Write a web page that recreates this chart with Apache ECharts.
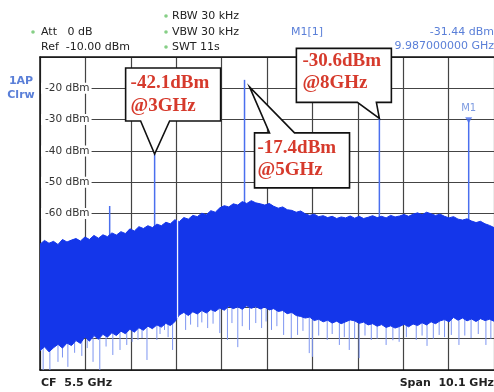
<!DOCTYPE html>
<html>
<head>
<meta charset="utf-8" />
<title>Spectrum 0.45 - 10.55 GHz</title>
<script src="https://cdn.jsdelivr.net/npm/echarts@6/dist/echarts.min.js"></script>
<style>
    html, body { margin: 0; padding: 0; background: #fff; }
    #chart { width: 494px; height: 392px; }
</style>
</head>
<body>
<div id="chart"></div>
<script type="text/javascript">
    // sweep: CF 5.5 GHz, span 10.1 GHz, trace read every 0.1 GHz
    var startGHz = 0.45;
    var spanGHz = 10.1;
    var stepGHz = 0.1;
    var divGHz = 1.01;

    // top edge of the noise floor (dBm)
    var noiseTop = [
        -69.8,-68.6,-69.5,-68.9,-69.9,-68.3,-69.1,-68.5,-68.0,-68.8,
        -67.5,-68.3,-67.0,-67.9,-66.8,-67.4,-66.2,-66.9,-65.8,-66.4,
        -64.9,-65.6,-64.2,-64.8,-63.9,-64.5,-63.4,-63.9,-62.8,-63.3,
        -62.0,-62.6,-61.3,-61.8,-60.6,-61.0,-59.9,-60.4,-59.1,-59.6,
        -58.2,-57.5,-57.9,-56.9,-57.3,-56.2,-56.8,-55.9,-56.6,-56.9,
        -57.3,-56.8,-57.7,-58.3,-57.9,-58.8,-59.0,-59.6,-59.2,-60.1,
        -60.6,-60.2,-61.0,-60.7,-61.3,-60.9,-61.6,-61.1,-61.4,-60.8,
        -61.5,-60.9,-61.6,-61.2,-60.7,-61.3,-60.9,-61.4,-60.6,-61.1,
        -60.8,-60.3,-60.9,-60.2,-59.8,-60.4,-59.6,-60.1,-60.6,-60.2,
        -60.9,-61.4,-61.0,-61.8,-62.1,-61.7,-62.4,-62.9,-62.5,-63.3,
        -63.8,-64.5
    ];
    // lower edge of the dense part of the noise (dBm)
    var noiseBottom = [
        -103.8,-102.6,-104.2,-102.9,-101.8,-103.0,-101.4,-102.2,-100.6,-101.5,
        -99.4,-100.8,-99.0,-100.2,-98.6,-99.5,-98.1,-99.0,-97.6,-98.4,
        -97.0,-97.9,-96.5,-97.3,-96.0,-96.8,-95.6,-96.3,-95.1,-95.8,
        -94.6,-92.4,-91.6,-92.6,-91.4,-92.1,-91.0,-91.8,-90.7,-91.3,
        -90.2,-90.9,-89.6,-90.4,-89.8,-90.6,-89.5,-90.3,-89.7,-90.5,
        -89.9,-90.8,-90.4,-91.3,-91.0,-92.0,-91.6,-92.6,-92.9,-93.4,
        -93.1,-94.2,-93.8,-94.6,-94.1,-95.0,-94.4,-95.2,-94.6,-94.0,
        -94.3,-95.1,-94.7,-95.6,-95.2,-96.0,-95.5,-96.4,-95.9,-96.6,
        -96.1,-95.4,-96.2,-95.3,-95.8,-94.9,-95.6,-94.6,-95.2,-94.3,
        -93.9,-94.6,-93.2,-94.1,-93.4,-94.3,-93.7,-94.5,-93.6,-94.2,
        -93.8,-94.4
    ];
    // sparse downward spikes under the noise
    var spikeFreqs = [
        0.52,0.67,0.85,0.95,1.07,1.22,1.38,1.50,1.63,1.78,1.92,2.07,2.23,2.38,2.50,
        2.63,2.72,2.83,3.05,3.12,3.22,3.30,3.40,3.69,3.80,3.96,4.05,4.18,4.30,4.45,
        4.62,4.72,4.85,4.95,5.11,5.25,5.38,5.48,5.60,5.72,5.87,6.04,6.18,6.30,6.44,
        6.51,6.65,6.84,6.95,7.11,7.22,7.33,7.45,7.55,7.68,7.82,7.95,8.15,8.30,8.44,
        8.60,8.82,8.95,9.06,9.20,9.33,9.45,9.60,9.77,9.90,10.04,10.20,10.37,10.48
    ];
    var spikeLows = [
        -110,-110,-107.4,-106,-109,-104.5,-105.5,-103,-107.4,-110,-102.5,-105.2,-103.6,-102,-101,
        -100.4,-99.8,-106.8,-100.4,-98.5,-97.2,-99.5,-103.6,-97.2,-95.5,-96.3,-94.8,-96.6,-95.2,-98.2,
        -100.4,-95,-102.7,-96,-97.2,-95,-96.6,-94.5,-97.2,-96,-98.8,-99.8,-98.8,-97.5,-104.6,
        -105.8,-99,-100.4,-98.5,-102,-99.5,-103.6,-100,-106.2,-99,-100.4,-100,-102,-100.5,-101,
        -99.5,-100.4,-99,-102.3,-100,-98.8,-99.5,-98.8,-102,-99,-99.8,-98.5,-102,-100
    ];
    // discrete tones
    var peakFreqs = [2.0, 3.0, 5.0, 8.0, 9.987];
    var peakLevels = [-57.6, -41.0, -17.3, -29.6, -30.2];
    var markerFreq = 9.987;
    var markerLevel = -30.2;
    // short break in the trace (white gap)
    var gapFreqs = [3.51];
    var gapTops = [-62.0];
    var gapBottoms = [-93.6];
    var labelTicks = [-20, -30, -40, -50, -60];

    var blue = '#1436ea';
    var lineBlue = '#4a6fee';
    var infoBlue = '#5a7fd8';
    var red = '#d63a2c';

    // x axis is measured from the start of the sweep
    function off(f) { return f - startGHz; }

    var spikeData = spikeFreqs.map(function (f, i) { return [off(f), spikeLows[i], -85]; });
    var peakData = peakFreqs.map(function (f, i) { return [off(f), peakLevels[i], -75]; });
    var gapData = gapFreqs.map(function (f, i) { return [off(f), gapTops[i], gapBottoms[i]]; });

    function vline(color, width) {
        return function (params, api) {
            var p1 = api.coord([api.value(0), api.value(1)]);
            var p2 = api.coord([api.value(0), api.value(2)]);
            return {
                type: 'line',
                shape: { x1: p1[0], y1: p1[1], x2: p2[0], y2: p2[1] },
                style: { stroke: color, lineWidth: width }
            };
        };
    }

    // the noise floor as one filled band between the two edges
    function renderBand(params, api) {
        var pts = [];
        for (var i = 0; i < noiseTop.length; i++) {
            pts.push(api.coord([i * stepGHz, noiseTop[i]]));
        }
        for (var j = noiseBottom.length - 1; j >= 0; j--) {
            pts.push(api.coord([j * stepGHz, noiseBottom[j]]));
        }
        return {
            type: 'polygon',
            shape: { points: pts },
            style: { fill: blue, stroke: blue, lineWidth: 1 }
        };
    }

    function headText(txt, x, y, color, align, extra) {
        return {
            type: 'text', z: 5, x: x, y: y,
            style: {
                text: txt, fill: color || '#222', textAlign: align || 'left', textVerticalAlign: 'middle',
                font: (extra || '') + '11px "DejaVu Sans"'
            }
        };
    }
    function dot(x, y) {
        return { type: 'circle', z: 5, shape: { cx: x, cy: y, r: 1.8 }, style: { fill: '#86cf86' } };
    }

    var chart = echarts.init(document.getElementById('chart'), null, { renderer: 'canvas' });
    var option = {
        animation: false,
        backgroundColor: '#fff',
        grid: { left: 40, right: 0, top: 57, bottom: 22 },
        xAxis: [{
            type: 'value', min: 0, max: spanGHz, interval: divGHz,
            axisLabel: { show: false }, axisTick: { show: false },
            axisLine: { show: true, lineStyle: { color: '#111', width: 1.5 } },
            splitLine: { show: true, lineStyle: { color: '#444', width: 1.2 } }
        }, {
            type: 'value', position: 'top', min: 0, max: spanGHz,
            axisLabel: { show: false }, axisTick: { show: false },
            axisLine: { show: true, lineStyle: { color: '#111', width: 1.5 } },
            splitLine: { show: false }
        }],
        yAxis: {
            type: 'value', min: -110, max: -10, interval: 10,
            axisTick: { show: false },
            axisLine: { show: true, lineStyle: { color: '#111', width: 1.5 } },
            splitLine: { show: true, lineStyle: { color: '#444', width: 1.2 } },
            axisLabel: {
                inside: true, margin: 1, color: '#333', fontSize: 10.5, fontFamily: 'DejaVu Sans',
                backgroundColor: '#fff', padding: [0, 2, 0, 4],
                formatter: function (v) { return labelTicks.indexOf(v) >= 0 ? v + ' dBm' : ''; }
            }
        },
        series: [
            {
                name: 'spikes', type: 'custom', z: 1, clip: true,
                data: spikeData, renderItem: vline('#7d95f1', 1)
            },
            {
                name: 'tones', type: 'custom', z: 1, clip: true,
                data: peakData, renderItem: vline(lineBlue, 1.5)
            },
            {
                name: 'noise', type: 'custom', z: 2, clip: true,
                data: [[0, noiseTop[0]]], renderItem: renderBand
            },
            {
                name: 'gap', type: 'custom', z: 3, clip: true,
                data: gapData, renderItem: vline('#f4f6ff', 1.3)
            },
            {
                name: 'M1', type: 'scatter', z: 4,
                data: [[off(markerFreq), markerLevel]],
                symbol: 'triangle', symbolRotate: 180, symbolSize: [7, 6],
                itemStyle: { color: lineBlue },
                label: {
                    show: true, position: 'top', distance: 4, formatter: 'M1',
                    color: infoBlue, fontSize: 10, fontFamily: 'DejaVu Sans'
                }
            }
        ],
        graphic: [
            dot(33, 32), headText('Att   0 dB', 41, 32),
            headText('Ref  -10.00 dBm', 41, 47),
            dot(166, 16), headText('RBW 30 kHz', 172, 16),
            dot(166, 32), headText('VBW 30 kHz', 172, 32),
            dot(166, 47), headText('SWT 11s', 172, 47),
            headText('M1[1]', 291, 32, infoBlue),
            headText('-31.44 dBm', 494, 32, infoBlue, 'right'),
            headText('9.987000000 GHz', 494, 46, infoBlue, 'right'),
            headText('1AP', 21, 81, infoBlue, 'center', 'bold '),
            headText('Clrw', 21, 95, infoBlue, 'center', 'bold '),
            headText('CF  5.5 GHz', 41, 383, '#222', 'left', 'bold '),
            headText('Span  10.1 GHz', 494, 383, '#222', 'right', 'bold ')
        ]
    };
    chart.setOption(option);

    // callouts pointing at the tones
    function px(f, v) {
        return chart.convertToPixel({ xAxisIndex: 0, yAxisIndex: 0 }, [off(f), v]);
    }
    function bubble(tip, pts) {
        return {
            type: 'polygon', z: 20,
            shape: { points: pts.map(function (p) { return [tip[0] + p[0], tip[1] + p[1]]; }) },
            style: { fill: '#fff', stroke: '#111', lineWidth: 1.6 }
        };
    }
    function redText(txt, x, y) {
        return {
            type: 'text', z: 21, x: x, y: y,
            style: { text: txt, fill: red, font: 'bold 19px "Liberation Serif"', textAlign: 'left', textVerticalAlign: 'middle' }
        };
    }
    var t3 = px(3.0, peakLevels[1]);
    var p5 = px(5.0, peakLevels[2]);
    var t5 = [p5[0] + 5, p5[1] + 7];
    var t8 = px(8.0, peakLevels[3]);
    var extra = [
        bubble(t3, [[-29, -86], [66, -86], [66, -33], [15, -33], [0, 0], [-14, -33], [-29, -33]]),
        redText('-42.1dBm', t3[0] - 24, t3[1] - 71),
        redText('@3GHz', t3[0] - 24, t3[1] - 48),
        bubble(t5, [[5, 46], [20, 46], [0, 0], [45, 46], [100, 46], [100, 101], [5, 101]]),
        redText('-17.4dBm', t5[0] + 8, t5[1] + 61),
        redText('@5GHz', t5[0] + 8, t5[1] + 83),
        bubble(t8, [[-83, -70], [12, -70], [12, -16], [-3, -16], [0, 0], [-22, -16], [-83, -16]]),
        redText('-30.6dBm', t8[0] - 77, t8[1] - 57),
        redText('@8GHz', t8[0] - 77, t8[1] - 35)
    ];
    chart.setOption({ graphic: option.graphic.concat(extra) });
</script>
</body>
</html>
